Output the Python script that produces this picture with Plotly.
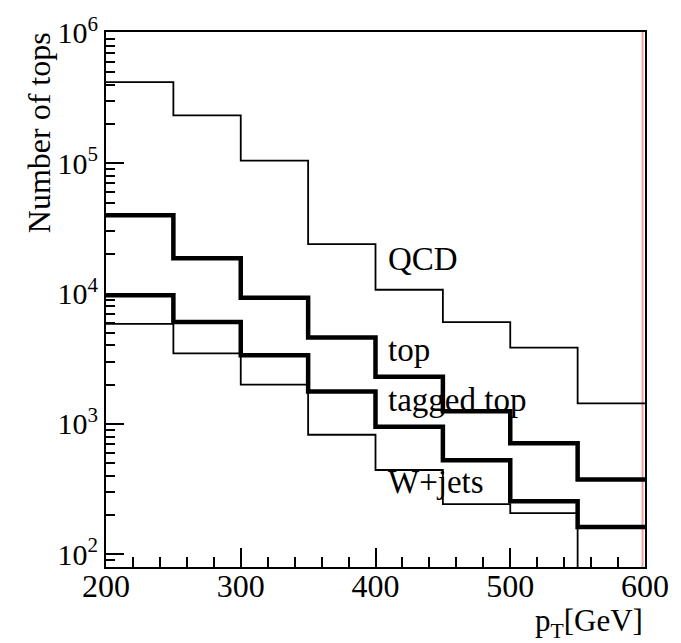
import numpy as np
import plotly.graph_objects as go

# Bin edges in pT [GeV]
bin_edges = [200, 250, 300, 350, 400, 450, 500, 550, 600]

# Bin contents (number of tops per bin)
qcd = [4.2e5, 2.33e5, 1.05e5, 2.4e4, 1.07e4, 6.05e3, 3.85e3, 1.44e3]
top = [4.0e4, 1.87e4, 9.3e3, 4.6e3, 2.3e3, 1.25e3, 710, 375]
tagged_top = [9.7e3, 6.05e3, 3.36e3, 1.77e3, 950, 527, 255, 162]
wjets = [5.85e3, 3.48e3, 2.0e3, 826, 443, 242, 207, 60]

# Decade tick labels on the y axis
y_tick_vals = [1e2, 1e3, 1e4, 1e5, 1e6]
y_tick_text = ["10<sup>2</sup>", "10<sup>3</sup>", "10<sup>4</sup>", "10<sup>5</sup>", "10<sup>6</sup>"]
x_tick_vals = [200, 300, 400, 500, 600]

FONT = "Liberation Serif, Times New Roman, serif"


def step(values):
    # histogram outline: repeat the last content so the final bin spans to the upper edge
    return bin_edges, list(values) + [values[-1]]


fig = go.Figure()
for vals, width in [(qcd, 1.8), (wjets, 1.8), (top, 4.5), (tagged_top, 4.5)]:
    xs, ys = step(vals)
    fig.add_trace(go.Scatter(
        x=xs, y=ys, mode="lines", line_shape="hv",
        line=dict(color="black", width=width), showlegend=False,
        hoverinfo="skip",
    ))

minor_y = [m * 10 ** k for k in range(1, 6) for m in range(2, 10)]

fig.update_xaxes(
    range=[200, 600], tickvals=x_tick_vals, ticktext=[str(v) for v in x_tick_vals],
    ticks="inside", ticklen=19, tickwidth=2, tickcolor="black",
    minor=dict(dtick=20, tick0=200, ticks="inside", ticklen=10, tickwidth=2, tickcolor="black"),
    showline=True, linecolor="black", linewidth=2, mirror=True,
    showgrid=False, zeroline=False,
    ticklabelstandoff=-10,
    tickfont=dict(family=FONT, size=32, color="black"),
)
fig.update_yaxes(
    type="log", range=[1.902, 6.0075],
    tickvals=y_tick_vals, ticktext=y_tick_text,
    ticks="inside", ticklen=18, tickwidth=2, tickcolor="black",
    minor=dict(tickvals=minor_y, ticks="inside", ticklen=9, tickwidth=2, tickcolor="black"),
    showline=True, linecolor="black", linewidth=2, mirror=True,
    showgrid=False, zeroline=False,
    tickfont=dict(family=FONT, size=30, color="black"),
)

# Curve labels
labels = [("QCD", 4.263), ("top", 3.571), ("tagged top", 3.180), ("W+jets", 2.556)]
for text, ylog in labels:
    fig.add_annotation(
        x=408, y=ylog, xref="x", yref="y", text=text, showarrow=False,
        xanchor="left", yanchor="middle",
        font=dict(family=FONT, size=33, color="black"),
    )

# Axis titles (placed at the ends of the axes)
fig.add_annotation(
    x=-0.125, y=0.812, xref="paper", yref="paper", text="Number of tops",
    textangle=-90, showarrow=False, xanchor="center", yanchor="middle",
    font=dict(family=FONT, size=32, color="black"),
)
fig.add_annotation(
    x=1.0, y=-0.105, xref="paper", yref="paper", text="p<sub>T</sub>[GeV]",
    showarrow=False, xanchor="right", yanchor="middle",
    font=dict(family=FONT, size=31, color="black"),
)

# Faint red pad border just inside the right frame
fig.add_shape(type="line", xref="paper", yref="paper", x0=0.9955, x1=0.9955, y0=0, y1=1,
              line=dict(color="#f2a0a0", width=2), layer="below")

fig.update_layout(
    width=681, height=643,
    margin=dict(l=106, r=31, t=21, b=76),
    paper_bgcolor="white", plot_bgcolor="white",
)

fig.write_html("out.html")
